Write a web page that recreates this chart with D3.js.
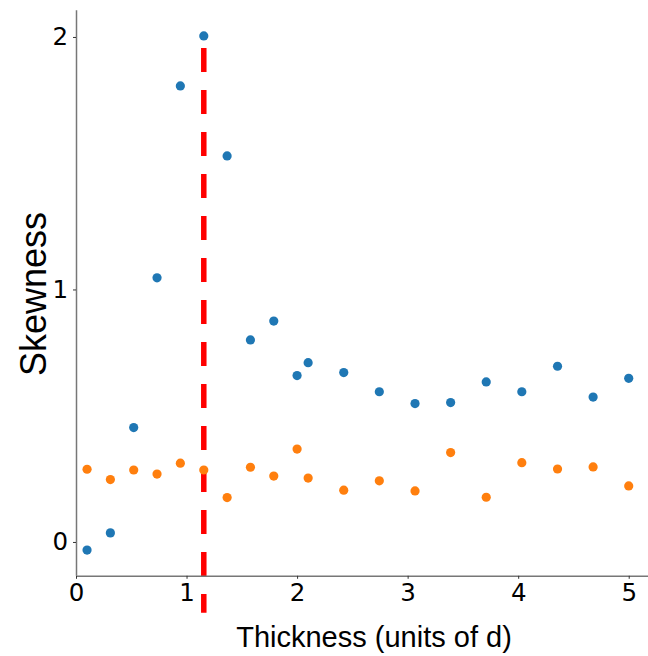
<!DOCTYPE html>
<html><head><meta charset="utf-8">
<script src="https://cdn.jsdelivr.net/npm/d3@7"></script>
<style>body{margin:0;background:#fff}svg{display:block}</style>
</head><body>
<script>
const thicknessLow = [0.1, 0.311, 0.522, 0.733, 0.944, 1.156, 1.367, 1.578, 1.789, 2.0];
const thicknessHigh = [2.1, 2.422, 2.744, 3.067, 3.389, 3.711, 4.033, 4.356, 4.678, 5.0];
const thickness = thicknessLow.concat(thicknessHigh);
const skewBlue = [-0.032, 0.036, 0.453, 1.046, 1.806, 2.004, 1.529, 0.80, 0.875, 0.659,
                  0.710, 0.671, 0.595, 0.548, 0.552, 0.634, 0.595, 0.696, 0.574, 0.648];
const skewOrange = [0.288, 0.247, 0.285, 0.269, 0.312, 0.285, 0.176, 0.296, 0.261, 0.368,
                    0.253, 0.205, 0.242, 0.202, 0.354, 0.177, 0.314, 0.289, 0.297, 0.222];
const thresholdX = 1.156;
const thresholdSpan = [-0.28, 1.956];
const xTicks = [0, 1, 2, 3, 4, 5];
const yTicks = [0, 1, 2];
const xDomain = [0, 5.245];
const yDomain = [-0.134, 2.106];

const W = 648, H = 656;
const svg = d3.select("body").append("svg").attr("width", W).attr("height", H);
const x = d3.scaleLinear().domain(xDomain).range([76, 655.8]);
const y = d3.scaleLinear().domain(yDomain).range([575.8, 10.2]);

// threshold line
svg.append("line")
  .attr("x1", x(thresholdX)).attr("x2", x(thresholdX))
  .attr("y1", y(thresholdSpan[1])).attr("y2", y(thresholdSpan[0]))
  .attr("stroke", "#ff0000").attr("stroke-width", 5.5)
  .attr("stroke-dasharray", "24,18");

const series = [{vals: skewBlue, color: "#1f77b4"}, {vals: skewOrange, color: "#ff7f0e"}];
series.forEach(s => {
  svg.append("g").selectAll("circle").data(thickness).enter().append("circle")
    .attr("cx", d => x(d)).attr("cy", (d, i) => y(s.vals[i]))
    .attr("r", 4.6).attr("fill", s.color);
});

// axes
const xAxis = svg.append("g").attr("transform", `translate(0,${y(yDomain[0])})`)
  .call(d3.axisBottom(x).tickValues(xTicks).tickFormat(d3.format("d")).tickSize(3).tickPadding(5));
const yAxis = svg.append("g").attr("transform", `translate(${x(xDomain[0])},0)`)
  .call(d3.axisLeft(y).tickValues(yTicks).tickFormat(d3.format("d")).tickSize(3).tickPadding(5));
[xAxis, yAxis].forEach(a => {
  a.select(".domain").attr("stroke", "#777").attr("stroke-width", 1.5);
  a.selectAll(".tick line").attr("stroke", "#333");
  a.selectAll(".tick text").attr("fill", "#000")
    .style("font-family", "'DejaVu Sans'").style("font-size", "24.5px");
});
xAxis.select(".domain").attr("d", `M${x(xDomain[0])},0.5H${x(xDomain[1])}`);
yAxis.select(".domain").attr("d", `M0.5,${y(yDomain[0])}V${y(yDomain[1])}`);

svg.append("text").attr("x", 374).attr("y", 647).attr("text-anchor", "middle")
  .style("font-family", "'Liberation Sans', Arial").style("font-size", "29px")
  .text("Thickness (units of d)");
svg.append("text").attr("transform", "translate(46,294) rotate(-90)").attr("text-anchor", "middle")
  .style("font-family", "'Liberation Sans', Arial").style("font-size", "36px")
  .text("Skewness");
</script>
</body></html>
